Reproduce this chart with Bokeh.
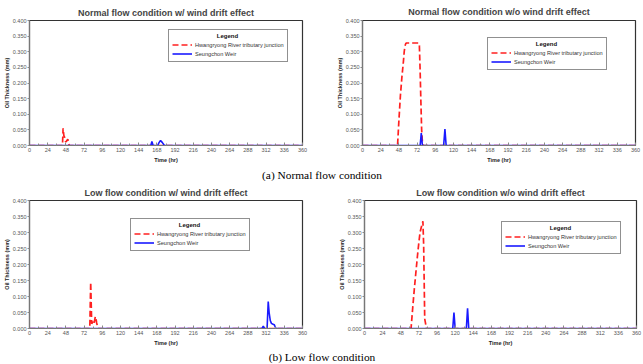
from bokeh.plotting import figure
from bokeh.models import Range1d, FixedTicker, NumeralTickFormatter, Legend, LegendItem, Label
from bokeh.layouts import column, row
from bokeh.embed import file_html
from bokeh.resources import INLINE
from bokeh.core.properties import value

# ---------------- data ----------------
x_ticks = [0, 24, 48, 72, 96, 120, 144, 168, 192, 216, 240, 264, 288, 312, 336, 360]
x_minor = [12, 36, 60, 84, 108, 132, 156, 180, 204, 228, 252, 276, 300, 324, 348]
y_ticks = [0.0, 0.05, 0.1, 0.15, 0.2, 0.25, 0.3, 0.35, 0.4]
series_names = ["Hwangryong River tributary junction", "Seungchon Weir"]
legend_title = "Legend"
titles = ["Normal flow condition w/ wind drift effect",
          "Normal flow condition w/o wind drift effect",
          "Low flow condition w/ wind drift effect",
          "Low flow condition w/o wind drift effect"]
captions = ["(a) Normal flow condition", "(b) Low flow condition"]
x_label = "Time (hr)"
y_label = "Oil Thickness (mm)"

# (a) normal flow, with wind drift
nw_red_t = [0, 43.5, 44.3, 45.3, 46.3, 47.3, 48.3, 49.3, 50.5, 51.5, 52.5, 360]
nw_red_y = [0, 0, 0.055, 0.032, 0.026, 0.014, 0.012, 0.016, 0.02, 0.008, 0, 0]
nw_blue_t = [0, 160, 161.4, 163, 169, 171, 172.8, 175, 178, 360]
nw_blue_y = [0, 0, 0.013, 0, 0, 0.01, 0.016, 0.01, 0, 0]

# (a) normal flow, without wind drift
no_red_t = [0, 46.2, 48, 50, 52, 54, 55, 56, 57, 58, 74, 75, 76, 77, 78, 79, 80, 360]
no_red_y = [0, 0, 0.08, 0.16, 0.22, 0.27, 0.3, 0.318, 0.326, 0.328, 0.328, 0.32, 0.24, 0.14, 0.05, 0.01, 0, 0]
no_blue_t = [0, 76, 77.5, 79, 107, 108.7, 110.3, 360]
no_blue_y = [0, 0, 0.04, 0, 0, 0.053, 0, 0]

# (b) low flow, with wind drift
lw_red_t = [0, 79.5, 80.7, 82, 83.5, 85, 86.8, 87.7, 88.5, 90.3, 360]
lw_red_y = [0, 0, 0.144, 0.015, 0.021, 0.015, 0.037, 0.03, 0.018, 0, 0]
lw_blue_t = [0, 306.5, 308.3, 310, 313.3, 314.8, 316, 317.5, 319, 320.5, 322.7, 325, 360]
lw_blue_y = [0, 0, 0.007, 0, 0, 0.084, 0.05, 0.025, 0.016, 0.014, 0.012, 0, 0]

# (b) low flow, without wind drift
lo_red_t = [0, 61.6, 64, 66, 68, 70, 72, 73.5, 75, 77.3, 78.3, 79.7, 80.5, 82, 360]
lo_red_y = [0, 0, 0.07, 0.125, 0.175, 0.225, 0.27, 0.3, 0.315, 0.335, 0.26, 0.03, 0.02, 0, 0]
lo_blue_t = [0, 116.8, 118.4, 120, 134.8, 136.4, 138, 360]
lo_blue_y = [0, 0, 0.05, 0, 0, 0.063, 0, 0]

SANS = "Liberation Sans"
SERIF = "Liberation Serif"
LEG_W = 118
LEG_H = 32


def make_panel(title, red_t, red_y, blue_t, blue_y, width, height,
               b_left, b_right, b_top, b_bottom, leg_xy, title_standoff):
    p = figure(width=width, height=height, output_backend="svg", toolbar_location=None,
               x_range=Range1d(0, 360), y_range=Range1d(0, 0.4),
               min_border_left=b_left, min_border_right=b_right,
               min_border_top=b_top, min_border_bottom=b_bottom)
    p.title.text = title
    p.title.align = "center"
    p.title.text_font = SANS
    p.title.text_font_size = "9px"
    p.title.text_font_style = "bold"
    p.title.standoff = title_standoff
    p.title.offset = 0
    p.xgrid.visible = False
    p.ygrid.visible = False
    p.outline_line_color = "#333333"
    p.outline_line_width = 1.2

    xa = p.xaxis[0]
    xa.ticker = FixedTicker(ticks=x_ticks, minor_ticks=x_minor)
    xa.axis_label = x_label
    ya = p.yaxis[0]
    ya.ticker = FixedTicker(ticks=y_ticks, minor_ticks=[])
    ya.formatter = NumeralTickFormatter(format="0.000")
    ya.axis_label = y_label
    for ax in (xa, ya):
        ax.major_label_text_font = SANS
        ax.major_label_text_font_size = "5.5px"
        ax.major_label_text_color = "#555555"
        ax.axis_label_text_font = SANS
        ax.axis_label_text_font_size = "5.5px"
        ax.axis_label_text_font_style = "bold"
        ax.axis_label_text_color = "#222222"
        ax.axis_line_color = "#777777"
        ax.axis_line_width = 1.2
        ax.major_tick_line_color = "#888888"
        ax.minor_tick_line_color = "#888888"
        ax.axis_label_standoff = 0
        ax.major_label_standoff = 1
    xa.major_tick_in = 3
    xa.major_tick_out = 0
    xa.minor_tick_in = 2
    xa.minor_tick_out = 0
    xa.major_label_standoff = 2
    xa.axis_label_standoff = 2
    ya.major_tick_in = 0
    ya.major_tick_out = 2
    ya.minor_tick_in = 0
    ya.minor_tick_out = 0

    r_red = p.line(red_t, red_y, line_color="#ff2020", line_width=1.7, line_dash="6 3")
    r_blue = p.line(blue_t, blue_y, line_color="#1a1aff", line_width=1.6)

    # centred legend title (drawn under the transparent legend box)
    lab = Label(x=leg_xy[0] + LEG_W / 2, y=leg_xy[1] + LEG_H - 5.5,
                x_units="screen", y_units="screen", text=legend_title,
                text_align="center", text_baseline="middle",
                text_font=SANS, text_font_size="6px", text_font_style="bold",
                text_color="#111111")
    p.add_layout(lab)

    leg = Legend(items=[LegendItem(label=series_names[0], renderers=[r_red]),
                        LegendItem(label=series_names[1], renderers=[r_blue])],
                 location=leg_xy, title=legend_title)
    leg.title_text_font = SANS
    leg.title_text_font_size = "6px"
    leg.title_text_font_style = "bold"
    leg.title_text_alpha = 0.0
    leg.title_standoff = 1
    leg.label_text_font = SANS
    leg.label_text_font_size = "5.6px"
    leg.label_text_color = "#333333"
    leg.label_height = 9
    leg.glyph_height = 9
    leg.glyph_width = 20
    leg.label_standoff = 3
    leg.padding = 3
    leg.spacing = 0
    leg.margin = 0
    leg.border_line_color = "#222222"
    leg.border_line_width = 1.5
    leg.background_fill_alpha = 0.0
    p.add_layout(leg, "center")
    return p


def make_caption(text, width, height):
    c = figure(width=width, height=height, output_backend="svg", toolbar_location=None,
               x_range=Range1d(0, 1), y_range=Range1d(0, 1),
               min_border=0, min_border_left=0, min_border_right=0,
               min_border_top=0, min_border_bottom=0)
    c.axis.visible = False
    c.xgrid.visible = False
    c.ygrid.visible = False
    c.outline_line_color = None
    c.text(x=[0.5], y=[0.5], text=[text], text_align="center", text_baseline="middle",
           text_font=value(SERIF), text_font_size="11.4px", text_color="black")
    return c


p1 = make_panel(titles[0], nw_red_t, nw_red_y, nw_blue_t, nw_blue_y,
                321, 167, 28, 19, 17, 22, (139, 83), 6)
p2 = make_panel(titles[1], no_red_t, no_red_y, no_blue_t, no_blue_y,
                322, 167, 41, 8, 19, 20, (125, 75), 8)
p3 = make_panel(titles[2], lw_red_t, lw_red_y, lw_blue_t, lw_blue_y,
                321, 168, 28, 19, 16, 21, (101, 77), 5)
p4 = make_panel(titles[3], lo_red_t, lo_red_y, lo_blue_t, lo_blue_y,
                322, 168, 43, 7, 19, 20, (137, 74), 6)
cap_a = make_caption(captions[0], 643, 14)
cap_b = make_caption(captions[1], 643, 15)

layout = column(row(p1, p2), cap_a, row(p3, p4), cap_b)
open("out.html", "w").write(file_html(layout, INLINE))
